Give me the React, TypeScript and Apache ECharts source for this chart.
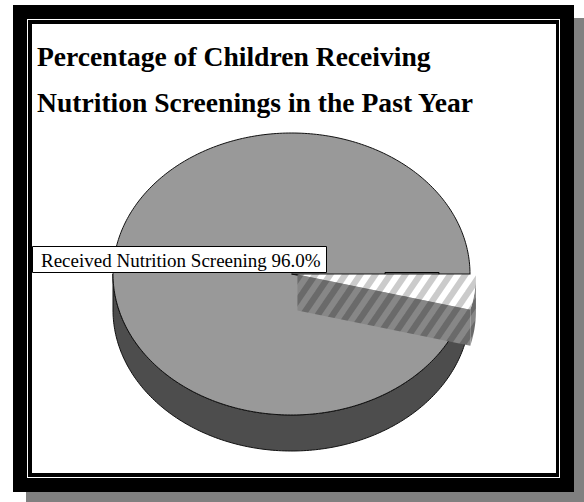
import React, { useEffect, useRef } from "react";
import * as echarts from "echarts";

// Pie slices, laid out clockwise from 3 o'clock
const categories = ["Did Not Receive Nutrition Screening", "Received Nutrition Screening"];
const values = [4.0, 96.0];
const titleLines = ["Percentage of Children Receiving", "Nutrition Screenings in the Past Year"];

// Diagonal two-tone stripe tile used as a repeating fill
function stripeTile(base: string, stripe: string, w: number, h: number) {
  const c = document.createElement("canvas");
  c.width = w;
  c.height = h;
  const g = c.getContext("2d")!;
  g.fillStyle = base;
  g.fillRect(0, 0, w, h);
  g.fillStyle = stripe;
  for (const off of [-w, 0, w]) {
    g.beginPath();
    g.moveTo(off - w / 4, h);
    g.lineTo(off + w / 4, h);
    g.lineTo(off + w + w / 4, 0);
    g.lineTo(off + w - w / 4, 0);
    g.closePath();
    g.fill();
  }
  return c;
}

export default function App() {
  const ref = useRef<HTMLDivElement>(null);

  useEffect(() => {
    const chart = echarts.init(ref.current!, null, { renderer: "svg" });

    const total = values.reduce((a, b) => a + b, 0);
    const starts: number[] = [];
    let acc = 0;
    values.forEach((v) => {
      starts.push(acc);
      acc += v;
    });

    const cx = 291.5;
    const cy = 274;
    const rx = 178.5;
    const ry = 141;
    const depth = 36;
    const explodedIndex = 0;
    const explodeBy = 6;

    const topHatch = { image: stripeTile("#cbcbcb", "#ffffff", 15, 22), repeat: "repeat" };
    const sideHatch = { image: stripeTile("#6a6a6a", "#878787", 15, 22), repeat: "repeat" };

    const renderItem = (params: any, api: any) => {
      const i = params.dataIndex;
      const v = api.value(0) as number;
      const s = api.value(1) as number;
      const a = (s / total) * Math.PI * 2;
      const b = ((s + v) / total) * Math.PI * 2;
      const mid = (a + b) / 2;
      const ex = i === explodedIndex ? explodeBy : 0;
      const dx = ex * Math.cos(mid);
      const dy = ex * Math.sin(mid) * (ry / rx);
      const ox = cx + dx;
      const oy = cy + dy;

      const P = (t: number, dz = 0) => [ox + rx * Math.cos(t), oy + ry * Math.sin(t) + dz];
      const arc = (t0: number, t1: number, dz = 0) => {
        const n = Math.max(2, Math.ceil(Math.abs(t1 - t0) / (Math.PI / 180)));
        const pts: number[][] = [];
        for (let k = 0; k <= n; k++) pts.push(P(t0 + ((t1 - t0) * k) / n, dz));
        return pts;
      };

      const hatched = i === explodedIndex;
      const topStyle: any = hatched
        ? { fill: topHatch }
        : { fill: "#999999", stroke: "#111111", lineWidth: 1 };
      const sideStyle: any = hatched
        ? { fill: sideHatch }
        : { fill: "#4d4d4d", stroke: "#111111", lineWidth: 1 };
      const zBase = hatched ? 10 : 0;

      const children: any[] = [];
      const face = (t: number) => ({
        type: "polygon",
        z2: zBase,
        shape: { points: [[ox, oy], P(t), P(t, depth), [ox, oy + depth]] },
        style: sideStyle,
      });
      if (Math.cos(a) < 0) children.push(face(a));
      if (Math.cos(b) > 0) children.push(face(b));

      const lo = Math.max(a, 0);
      const hi = Math.min(b, Math.PI);
      if (hi > lo) {
        children.push({
          type: "polygon",
          z2: zBase + 1,
          shape: { points: [...arc(lo, hi, 0), ...arc(hi, lo, depth)] },
          style: sideStyle,
        });
      }

      children.push({
        type: "polygon",
        z2: zBase + 2,
        shape: { points: [[ox, oy], ...arc(a, b, 0)] },
        style: topStyle,
      });

      if (hatched) {
        // this slice's own label box, tucked behind the slice
        children.push({
          type: "rect",
          z2: 5,
          shape: { x: 385, y: 272.5, width: 54, height: 24 },
          style: { fill: "none", stroke: "#000000", lineWidth: 1 },
        });
      } else {
        children.push({
          type: "rect",
          z2: 20,
          shape: { x: 32.5, y: 246.5, width: 294, height: 26 },
          style: { fill: "#ffffff", stroke: "#000000", lineWidth: 1 },
        });
        children.push({
          type: "text",
          z2: 21,
          x: 41,
          y: 260.5,
          style: {
            text: `${categories[i]} ${v.toFixed(1)}%`,
            font: '19px "Liberation Serif"',
            fill: "#000000",
            align: "left",
            verticalAlign: "middle",
          },
        });
      }

      return { type: "group", children };
    };

    chart.setOption({
      animation: false,
      backgroundColor: "#ffffff",
      title: {
        text: titleLines.join("\n"),
        left: 37,
        top: 33,
        padding: 0,
        textStyle: {
          fontFamily: '"Liberation Serif"',
          fontSize: 27.6,
          fontWeight: "bold",
          color: "#000000",
          lineHeight: 46,
        },
      },
      graphic: {
        elements: [
          { type: "rect", z: -10, silent: true, shape: { x: 26, y: 18, width: 558, height: 484 }, style: { fill: "#808080" } },
          { type: "rect", z: -10, silent: true, shape: { x: 13, y: 5, width: 561, height: 487 }, style: { fill: "#000000" } },
          { type: "rect", z: -10, silent: true, shape: { x: 27, y: 19, width: 533, height: 459 }, style: { fill: "#ffffff" } },
          { type: "rect", z: -10, silent: true, shape: { x: 28, y: 20, width: 531, height: 457 }, style: { fill: "#000000" } },
          { type: "rect", z: -10, silent: true, shape: { x: 32, y: 24, width: 524, height: 449 }, style: { fill: "#ffffff" } },
        ],
      },
      series: [
        {
          type: "custom",
          coordinateSystem: "none",
          silent: true,
          renderItem,
          data: values.map((v, i) => ({ name: categories[i], value: [v, starts[i]] })),
        },
      ],
    });

    return () => chart.dispose();
  }, []);

  return (
    <div
      ref={ref}
      style={{ position: "fixed", left: 0, top: 0, width: 584, height: 502 }}
    />
  );
}
